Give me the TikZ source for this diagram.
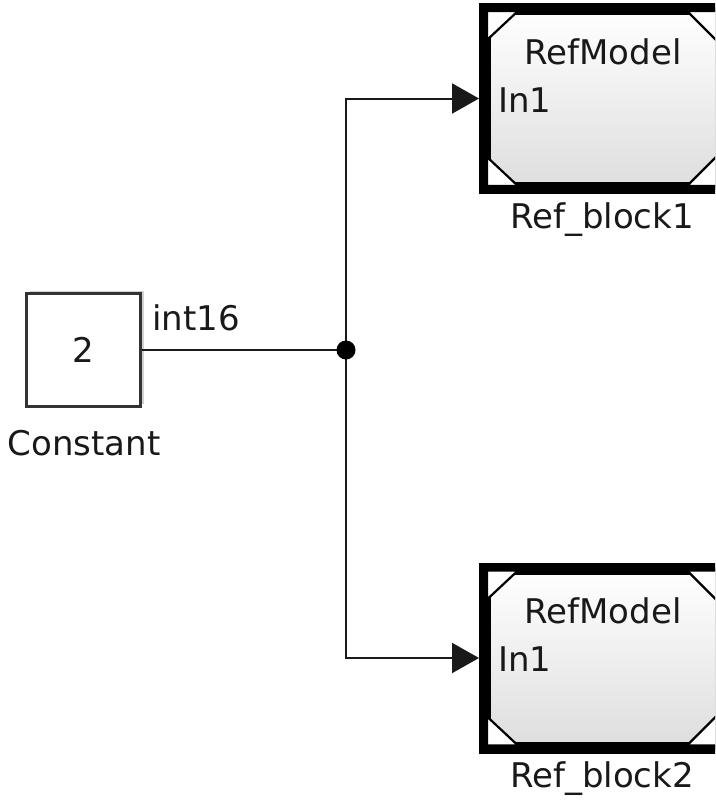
\documentclass[tikz,border=0pt]{standalone}
\usepackage{fontspec}
\setmainfont{DejaVu Sans}
\usetikzlibrary{arrows.meta,shadows,calc}
\tikzset{
  txt/.style={font=\fontsize{34}{40}\selectfont, inner sep=0pt, text=black!90},
  wire/.style={line width=2pt, draw=black!90},
  arr/.style={wire, -{Triangle[length=27pt,width=30pt]}, shorten >=4pt},
  constblk/.style={draw=black!80, line width=3pt, fill=white, minimum width=114pt, minimum height=113pt, inner sep=0pt,
     drop shadow={shadow xshift=3pt, shadow yshift=3pt, opacity=0.3, fill=black!60}},
  refblk/.style={draw=black, line width=8pt, top color=white, bottom color=black!13, minimum width=232pt, minimum height=175pt, inner sep=0pt},
  corner/.style={fill=white, draw=black, line width=2.2pt}
}
\newcommand{\refcorners}[1]{%
  \begin{scope}
  \coordinate (nw) at ($(#1.north west)+(4,4)$);
  \coordinate (ne) at ($(#1.north east)+(-4,4)$);
  \coordinate (sw) at ($(#1.south west)+(4,-4)$);
  \coordinate (se) at ($(#1.south east)+(-4,-4)$);
  \filldraw[corner] (nw) -- ($(nw)+(31,0)$) -- ($(nw)+(0,29)$) -- cycle;
  \filldraw[corner] (ne) -- ($(ne)+(-32,0)$) -- ($(ne)+(0,32)$) -- cycle;
  \filldraw[corner] (sw) -- ($(sw)+(31,0)$) -- ($(sw)+(0,-29)$) -- cycle;
  \filldraw[corner] (se) -- ($(se)+(-32,0)$) -- ($(se)+(0,-32)$) -- cycle;
  \draw[black, line width=8pt] (#1.north west) rectangle (#1.south east);
  \end{scope}}
\begin{document}
\begin{tikzpicture}[x=1pt,y=-1pt]
\useasboundingbox (0,0) rectangle (715,806);
\begin{scope}
\clip (0,0) rectangle (715,806);
% Constant block
\node[constblk] (const) at (83.5,350) {};
\node[txt] (two) at (const.center) {2};
\node[txt] (constlbl) at (84,443) {Constant};
% Reference blocks
\node[refblk] (rb1) at (603,98.5) {};
\refcorners{rb1}
\node[txt] (rm1) at (603,52) {RefModel};
\node[txt, anchor=west] (in1a) at (498,100) {In1};
\node[txt] (rb1lbl) at (602,220) {Ref\_block1};
\node[refblk] (rb2) at (603,658) {};
\refcorners{rb2}
\node[txt] (rm2) at (603,611) {RefModel};
\node[txt, anchor=west] (in1b) at (498,659) {In1};
\node[txt] (rb2lbl) at (602,779) {Ref\_block2};
\end{scope}
% Junction and wires
\coordinate (junc) at (346,350);
\draw[wire] (const.east) -- (junc);
\node[txt] (sig) at (196,318) {int16};
\draw[arr] (junc) |- (rb1.west);
\draw[arr] (junc) |- (rb2.west);
\fill[black] (junc) circle (9.5pt);
\end{tikzpicture}
\end{document}
